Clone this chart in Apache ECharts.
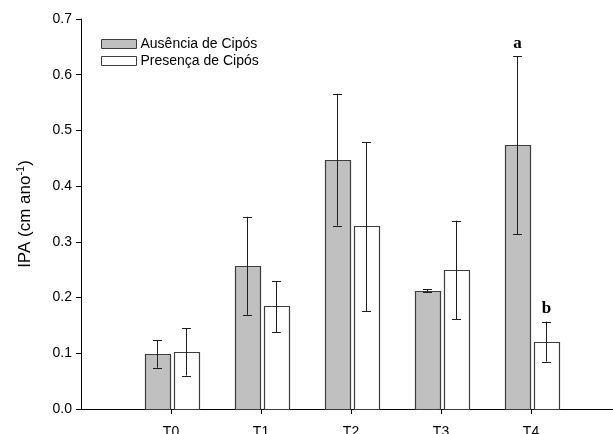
<!DOCTYPE html>
<html>
<head>
<meta charset="utf-8">
<script src="https://cdn.jsdelivr.net/npm/echarts@6/dist/echarts.min.js"></script>
<style>html,body{margin:0;padding:0;background:#fff}#c{width:613px;height:434px}</style>
</head>
<body>
<div id="c"></div>
<script>
const categories = ['T0', 'T1', 'T2', 'T3', 'T4'];
const ausMean = [0.099, 0.257, 0.447, 0.212, 0.473];
const ausLow = [0.074, 0.169, 0.329, 0.210, 0.314];
const ausHigh = [0.123, 0.345, 0.566, 0.215, 0.633];
const preMean = [0.102, 0.184, 0.328, 0.249, 0.121];
const preLow = [0.060, 0.138, 0.176, 0.161, 0.085];
const preHigh = [0.145, 0.229, 0.479, 0.338, 0.157];
const ausLetters = ['', '', '', '', 'a'];
const preLetters = ['', '', '', '', 'b'];
const yTicks = [0, 0.1, 0.2, 0.3, 0.4, 0.5, 0.6, 0.7];

const FONT = 'Liberation Sans, Arial, sans-serif';

function build(mean, low, high) {
  return categories.map((c, i) => [i + 1, mean[i], low[i], high[i]]);
}

function makeRender(offset, fill, letters) {
  return function (params, api) {
    const x = api.value(0), m = api.value(1), lo = api.value(2), hi = api.value(3);
    const base = api.coord([x, 0]);
    const top = api.coord([x, m]);
    const pLo = api.coord([x, lo]);
    const pHi = api.coord([x, hi]);
    const cx = Math.round(base[0] + offset) + 0.5;
    const bw = 25, cap = 4.5;
    const children = [
      { type: 'rect', shape: { x: Math.round(cx - bw / 2) + 0.5, y: Math.round(top[1]) + 0.5, width: bw, height: Math.round(base[1]) - Math.round(top[1]) },
        style: { fill: fill, stroke: '#3c3c3c', lineWidth: 1.2 } },
      { type: 'line', shape: { x1: cx, y1: pLo[1], x2: cx, y2: pHi[1] }, style: { stroke: '#1e1e1e', lineWidth: 1 } },
      { type: 'line', shape: { x1: cx - cap, y1: Math.round(pHi[1]) + 0.5, x2: cx + cap, y2: Math.round(pHi[1]) + 0.5 }, style: { stroke: '#1e1e1e', lineWidth: 1 } },
      { type: 'line', shape: { x1: cx - cap, y1: Math.round(pLo[1]) + 0.5, x2: cx + cap, y2: Math.round(pLo[1]) + 0.5 }, style: { stroke: '#1e1e1e', lineWidth: 1 } }
    ];
    const letter = letters[params.dataIndex];
    if (letter) {
      children.push({ type: 'text', style: { text: letter, x: cx, y: pHi[1] - 4, align: 'center', verticalAlign: 'bottom',
        font: 'bold 17px "Liberation Serif", "Times New Roman", serif', fill: '#000' } });
    }
    return { type: 'group', children: children };
  };
}

const chart = echarts.init(document.getElementById('c'), null, { renderer: 'canvas' });
chart.setOption({
  animation: false,
  backgroundColor: '#fff',
  grid: { left: 81, right: -8, top: 19, bottom: 25, outerBoundsMode: 'none', containLabel: false },
  legend: {
    orient: 'vertical', left: 96, top: 32, itemWidth: 35, itemHeight: 9, itemGap: 3,
    textStyle: { fontFamily: FONT, fontSize: 14, color: '#000', padding: [0, 0, 0, -1] },
    data: [
      { name: 'Ausência de Cipós', icon: 'rect', itemStyle: { color: '#c0c0c0', borderColor: '#3c3c3c', borderWidth: 1 } },
      { name: 'Presença de Cipós', icon: 'rect', itemStyle: { color: '#ffffff', borderColor: '#3c3c3c', borderWidth: 1 } }
    ]
  },
  xAxis: {
    type: 'value', min: 0, max: 6, interval: 1,
    axisLine: { show: true, lineStyle: { color: '#000', width: 1 } },
    axisTick: { show: true, length: 5, customValues: [1, 2, 3, 4, 5], lineStyle: { color: '#000' } },
    axisLabel: { customValues: [1, 2, 3, 4, 5], formatter: v => categories[Math.round(v) - 1] || '', margin: 16,
      fontFamily: FONT, fontSize: 14, color: '#000' },
    splitLine: { show: false }
  },
  yAxis: {
    type: 'value', min: 0, max: 0.7, interval: 0.1,
    name: '{a|IPA (cm ano}{s|-1}{a|)}', nameLocation: 'middle', nameRotate: 90, nameGap: 46,
    nameTextStyle: { rich: { a: { fontFamily: FONT, fontSize: 17, color: '#000' }, s: { fontFamily: FONT, fontSize: 11, color: '#000', verticalAlign: 'top', padding: [0, 0, 9, 0] } } },
    axisLine: { show: true, lineStyle: { color: '#000', width: 1 } },
    axisTick: { show: true, length: 5, lineStyle: { color: '#000' } },
    axisLabel: { formatter: v => (yTicks.find(t => Math.abs(t - v) < 1e-9) ?? v).toFixed(1), margin: 9, fontFamily: FONT, fontSize: 14, color: '#000' },
    splitLine: { show: false }
  },
  series: [
    { name: 'Ausência de Cipós', type: 'custom', renderItem: makeRender(-14.5, '#c0c0c0', ausLetters),
      itemStyle: { color: '#c0c0c0', borderColor: '#3c3c3c' }, encode: { x: 0, y: [1, 2, 3] }, data: build(ausMean, ausLow, ausHigh) },
    { name: 'Presença de Cipós', type: 'custom', renderItem: makeRender(15, '#ffffff', preLetters),
      itemStyle: { color: '#ffffff', borderColor: '#3c3c3c' }, encode: { x: 0, y: [1, 2, 3] }, data: build(preMean, preLow, preHigh) }
  ]
});
</script>
</body>
</html>
